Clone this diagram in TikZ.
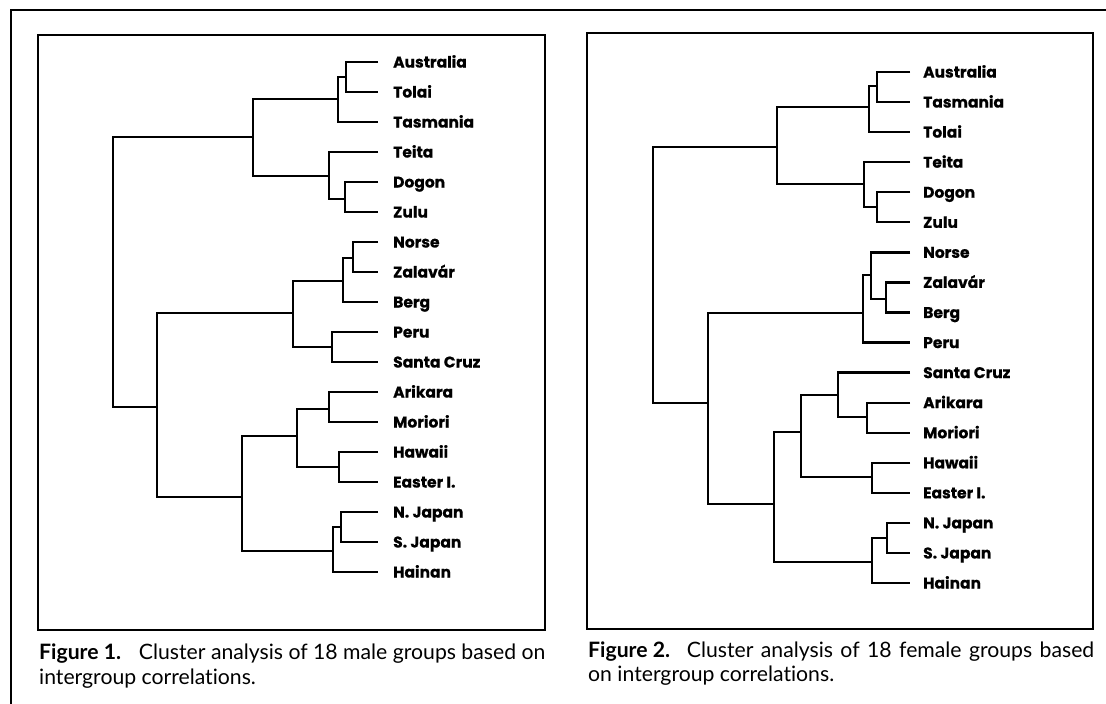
\documentclass[tikz,border=0pt]{standalone}
\usepackage{fontspec}
\newfontfamily\labfont{Poppins}[FakeBold=0.6]
\newfontfamily\capfont{Lato}[Ligatures=NoCommon]
\begin{document}
\begin{tikzpicture}[x=1pt,y=-1pt,
  treeline/.style={line width=2.3pt, line join=miter},
  boxline/.style={line width=1.6pt},
  leaflab/.style={anchor=base west, inner sep=0pt, font=\labfont\bfseries\fontsize{15.5}{17}\selectfont},
  captext/.style={anchor=base west, inner sep=0pt, font=\capfont\fontsize{21.2}{26}\selectfont}]
\useasboundingbox (0,0) rectangle (1106,704);
% outer frame
\coordinate (oTL) at (11,10);
\coordinate (oTR) at (1106,10);
\coordinate (oBL) at (11,704);
\draw[boxline] (oBL) -- (oTL) -- (oTR);
% panel boxes
\draw[boxline] (38,35) rectangle (545,630);
\draw[boxline] (587,33) rectangle (1093,629);

% ---------- left dendrogram ----------
\foreach \n/\t [count=\i from 0] in {Aus/Australia,Tol/Tolai,Tas/Tasmania,Tei/Teita,Dog/Dogon,Zul/Zulu,Nor/Norse,Zal/Zalavár,Ber/Berg,Per/Peru,San/Santa Cruz,Ari/Arikara,Mor/Moriori,Haw/Hawaii,Eas/Easter I.,NJ/N. Japan,SJ/S. Japan,Hai/Hainan}{
  \coordinate (l\n) at (378,{62+30*\i});
  \node[leaflab] (tl\n) at (393,{67.5+30*\i}) {\t};
}
\coordinate (la1) at (346,77);
\coordinate (la2) at (338,99);
\coordinate (la3) at (345,199);
\coordinate (la4) at (329,176);
\coordinate (lA)  at (253,137);
\coordinate (le1) at (353,258);
\coordinate (le2) at (343,281);
\coordinate (le3) at (332,347);
\coordinate (lE)  at (293,313);
\coordinate (lp1) at (329,409);
\coordinate (lp2) at (339,467);
\coordinate (lP)  at (297,436);
\coordinate (lj1) at (341,527);
\coordinate (lj2) at (333,551);
\coordinate (lJ)  at (242,497);
\coordinate (lEA) at (157,407);
\coordinate (lR)  at (113,272);
\draw[treeline] (lAus) -| (la1) |- (lTol);
\draw[treeline] (la1) -| (la2) |- (lTas);
\draw[treeline] (lDog) -| (la3) |- (lZul);
\draw[treeline] (lTei) -| (la4) |- (la3);
\draw[treeline] (la2) -| (lA) |- (la4);
\draw[treeline] (lNor) -| (le1) |- (lZal);
\draw[treeline] (le1) -| (le2) |- (lBer);
\draw[treeline] (lPer) -| (le3) |- (lSan);
\draw[treeline] (le2) -| (lE) |- (le3);
\draw[treeline] (lAri) -| (lp1) |- (lMor);
\draw[treeline] (lHaw) -| (lp2) |- (lEas);
\draw[treeline] (lp1) -| (lP) |- (lp2);
\draw[treeline] (lNJ) -| (lj1) |- (lSJ);
\draw[treeline] (lj1) -| (lj2) |- (lHai);
\draw[treeline] (lP) -| (lJ) |- (lj2);
\draw[treeline] (lE) -| (lEA) |- (lJ);
\draw[treeline] (lA) -| (lR) |- (lEA);

% ---------- right dendrogram ----------
\foreach \n/\t [count=\i from 0] in {Aus/Australia,Tas/Tasmania,Tol/Tolai,Tei/Teita,Dog/Dogon,Zul/Zulu,Nor/Norse,Zal/Zalavár,Ber/Berg,Per/Peru,San/Santa Cruz,Ari/Arikara,Mor/Moriori,Haw/Hawaii,Eas/Easter I.,NJ/N. Japan,SJ/S. Japan,Hai/Hainan}{
  \coordinate (r\n) at (910,{72+30.06*\i});
  \node[leaflab] (tr\n) at (923,{77.5+30.06*\i}) {\t};
}
\coordinate (rb1) at (877,86);
\coordinate (rb2) at (869,107);
\coordinate (rb3) at (877,207);
\coordinate (rb4) at (864,184);
\coordinate (rA)  at (777,147);
\coordinate (rf1) at (886,299);
\coordinate (rf2) at (871,275);
\coordinate (rf3) at (863,313);
\coordinate (rq1) at (867,417);
\coordinate (rq2) at (838,395);
\coordinate (rq3) at (872,477);
\coordinate (rQ)  at (801,432);
\coordinate (rk1) at (887,538);
\coordinate (rk2) at (872,562);
\coordinate (rK)  at (774,504);
\coordinate (rEA) at (708,403);
\coordinate (rR)  at (653,280);
\draw[treeline] (rAus) -| (rb1) |- (rTas);
\draw[treeline] (rb1) -| (rb2) |- (rTol);
\draw[treeline] (rDog) -| (rb3) |- (rZul);
\draw[treeline] (rTei) -| (rb4) |- (rb3);
\draw[treeline] (rb2) -| (rA) |- (rb4);
\draw[treeline] (rZal) -| (rf1) |- (rBer);
\draw[treeline] (rNor) -| (rf2) |- (rf1);
\draw[treeline] (rf2) -| (rf3) |- (rPer);
\draw[treeline] (rAri) -| (rq1) |- (rMor);
\draw[treeline] (rSan) -| (rq2) |- (rq1);
\draw[treeline] (rHaw) -| (rq3) |- (rEas);
\draw[treeline] (rq2) -| (rQ) |- (rq3);
\draw[treeline] (rNJ) -| (rk1) |- (rSJ);
\draw[treeline] (rk1) -| (rk2) |- (rHai);
\draw[treeline] (rQ) -| (rK) |- (rk2);
\draw[treeline] (rf3) -| (rEA) |- (rK);
\draw[treeline] (rA) -| (rR) |- (rEA);

% ---------- captions ----------
\node[captext] (cap1a) at (39,659) {\textbf{Figure 1.}\hspace{0.5em} Cluster analysis of 18 male groups based on};
\node[captext] (cap1b) at (39,684) {intergroup correlations.};
\node[captext] (cap2a) at (588,657) {\textbf{Figure 2.}\hspace{0.45em} Cluster\hspace{2pt} analysis\hspace{2pt} of\hspace{2pt} 18\hspace{2pt} female\hspace{2pt} groups\hspace{2pt} based};
\node[captext] (cap2b) at (588,681) {on intergroup correlations.};
\end{tikzpicture}
\end{document}
